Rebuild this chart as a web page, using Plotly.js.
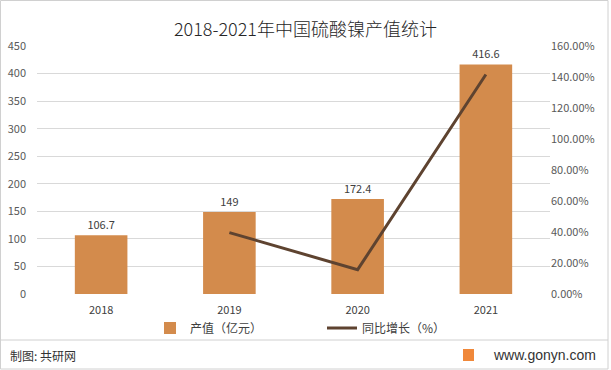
<!DOCTYPE html>
<html><head><meta charset="utf-8">
<script src="https://cdn.plot.ly/plotly-3.0.1.min.js"></script>
<style>html,body{margin:0;padding:0;background:#fff}</style>
</head><body>
<div id="chart" style="width:611px;height:370px"></div>
<script>
const years = ['2018', '2019', '2020', '2021'];
const outputValue = [106.7, 149, 172.4, 416.6];
const growthYears = ['2019', '2020', '2021'];
const growthRate = [0.396, 0.157, 1.416];

const W = 611, H = 370;
const L = 37, R = 61, T = 46, B = 76;
const pw = W - L - R, ph = H - T - B;
const px = x => (x - L) / pw;
const py = y => (H - B - y) / ph;

const font = 'Noto Sans CJK SC, Noto Sans, sans-serif';

const traces = [
  {
    type: 'bar', x: years, y: outputValue, name: '产值（亿元）',
    marker: {color: '#D38B4C'}, width: 0.41,
    text: outputValue.map(String), textposition: 'outside',
    textfont: {size: 11, color: '#404040', family: font},
    cliponaxis: false, hoverinfo: 'none'
  },
  {
    type: 'scatter', mode: 'lines', x: growthYears, y: growthRate, yaxis: 'y2',
    name: '同比增长（%）', line: {color: '#5E4330', width: 3}, hoverinfo: 'none'
  }
];

const layout = {
  width: W, height: H,
  margin: {l: L, r: R, t: T, b: B},
  paper_bgcolor: '#fff', plot_bgcolor: '#fff',
  font: {family: font, color: '#595959', size: 11},
  title: {text: '2018-2021年中国硫酸镍产值统计', font: {size: 18, color: '#262626', family: font, weight: 300},
          x: 0.5, xanchor: 'center', y: 1 - 30 / H, yanchor: 'middle'},
  bargap: 0.59,
  xaxis: {type: 'category', showgrid: false, zeroline: false, showline: false,
          ticks: '', tickfont: {size: 11, color: '#404040'}, ticklabelstandoff: 8},
  yaxis: {range: [0, 450], dtick: 50, showgrid: true, gridcolor: '#D9D9D9', gridwidth: 1,
          zeroline: false, showline: false, ticks: '', tickfont: {size: 11, color: '#595959'},
          ticklabelstandoff: 10},
  yaxis2: {range: [0, 1.6], dtick: 0.2, tickformat: '.2%', overlaying: 'y', side: 'right',
           showgrid: false, zeroline: false, showline: false, ticks: '',
           tickfont: {size: 11, color: '#595959'}},
  showlegend: true,
  legend: {orientation: 'h', x: px(150), xanchor: 'left', y: py(328), yanchor: 'middle',
           bgcolor: 'rgba(0,0,0,0)',
           font: {size: 12, color: '#404040'}, traceorder: 'normal', itemwidth: 30,
           entrywidth: 127},
  shapes: [
    {type: 'rect', xref: 'paper', yref: 'paper', x0: px(0.5), x1: px(608), y0: py(369), y1: py(0.5),
     line: {color: '#D0D0D0', width: 1}},
    {type: 'line', xref: 'paper', yref: 'paper', x0: px(0.5), x1: px(608), y0: py(340), y1: py(340),
     line: {color: '#D0D0D0', width: 1}},
    {type: 'rect', xref: 'paper', yref: 'paper', x0: px(463), x1: px(474), y0: py(361), y1: py(349),
     fillcolor: '#F0883A', line: {width: 0}}
  ],
  annotations: [
    {xref: 'paper', yref: 'paper', x: px(8), y: py(355), xanchor: 'left', yanchor: 'middle',
     text: '制图: 共研网', showarrow: false, font: {size: 12, color: '#333'}},
    {xref: 'paper', yref: 'paper', x: px(598), y: py(355), xanchor: 'right', yanchor: 'middle',
     text: 'www.gonyn.com', showarrow: false, font: {size: 14, color: '#333', family: 'Liberation Sans, Arial, sans-serif'}}
  ]
};

Plotly.newPlot('chart', traces, layout, {displayModeBar: false, staticPlot: true});
</script>
</body></html>
